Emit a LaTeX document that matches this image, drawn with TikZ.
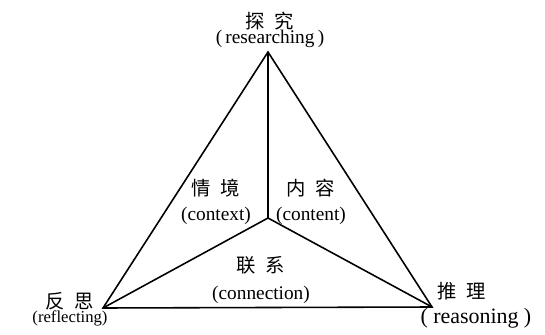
\documentclass[tikz,border=0pt]{standalone}
\usepackage{fontspec}
\setmainfont{Liberation Serif}
\newfontfamily\cjk{Noto Sans CJK SC}
\usetikzlibrary{positioning}

\begin{document}
\begin{tikzpicture}[
x=0.02cm, y=-0.02cm,
edge/.style={line width=0.9pt, black},
lbl/.style={align=center, inner sep=0pt, font=\fontsize{11}{13.6}\selectfont}
]
\useasboundingbox (0,0) rectangle (545,335);

% triangle corners and middle point
\coordinate (top) at (268,52);
\coordinate (left) at (103,308);
\coordinate (right) at (432,307);
\coordinate (mid) at (268,218);

\draw[edge] (top) -- (left) -- (right) -- cycle;
\draw[edge] (mid) -- (top);
\draw[edge] (mid) -- (left);
\draw[edge] (mid) -- (right);

% corner labels
\node[lbl] (researching) at (270,30) {{\cjk 探\hspace{0.5em}究}\\[-5pt](\,researching\,)};
\node[lbl, font=\fontsize{9.5}{12}\selectfont] (reflecting) at (70,309) {{\fontsize{11}{12}\cjk 反\hspace{0.5em}思}\\[-4pt](reflecting)};
\node[lbl, font=\fontsize{12.5}{14}\selectfont] (reasoning) at (476,305) {{\fontsize{11}{12}\cjk 推\hspace{0.5em}理}\hspace*{16pt}\\[0pt](\hspace{3pt}reasoning\hspace{3pt})};

% inner labels
\node[lbl] (context) at (216,202) {{\cjk 情\hspace{0.5em}境}\\[1pt](context)};
\node[lbl] (content) at (311,202) {{\cjk 内\hspace{0.5em}容}\\[1pt](content)};
\node[lbl] (connection) at (261,280) {{\cjk 联\hspace{0.5em}系}\\[2pt](connection)};

\end{tikzpicture}
\end{document}
